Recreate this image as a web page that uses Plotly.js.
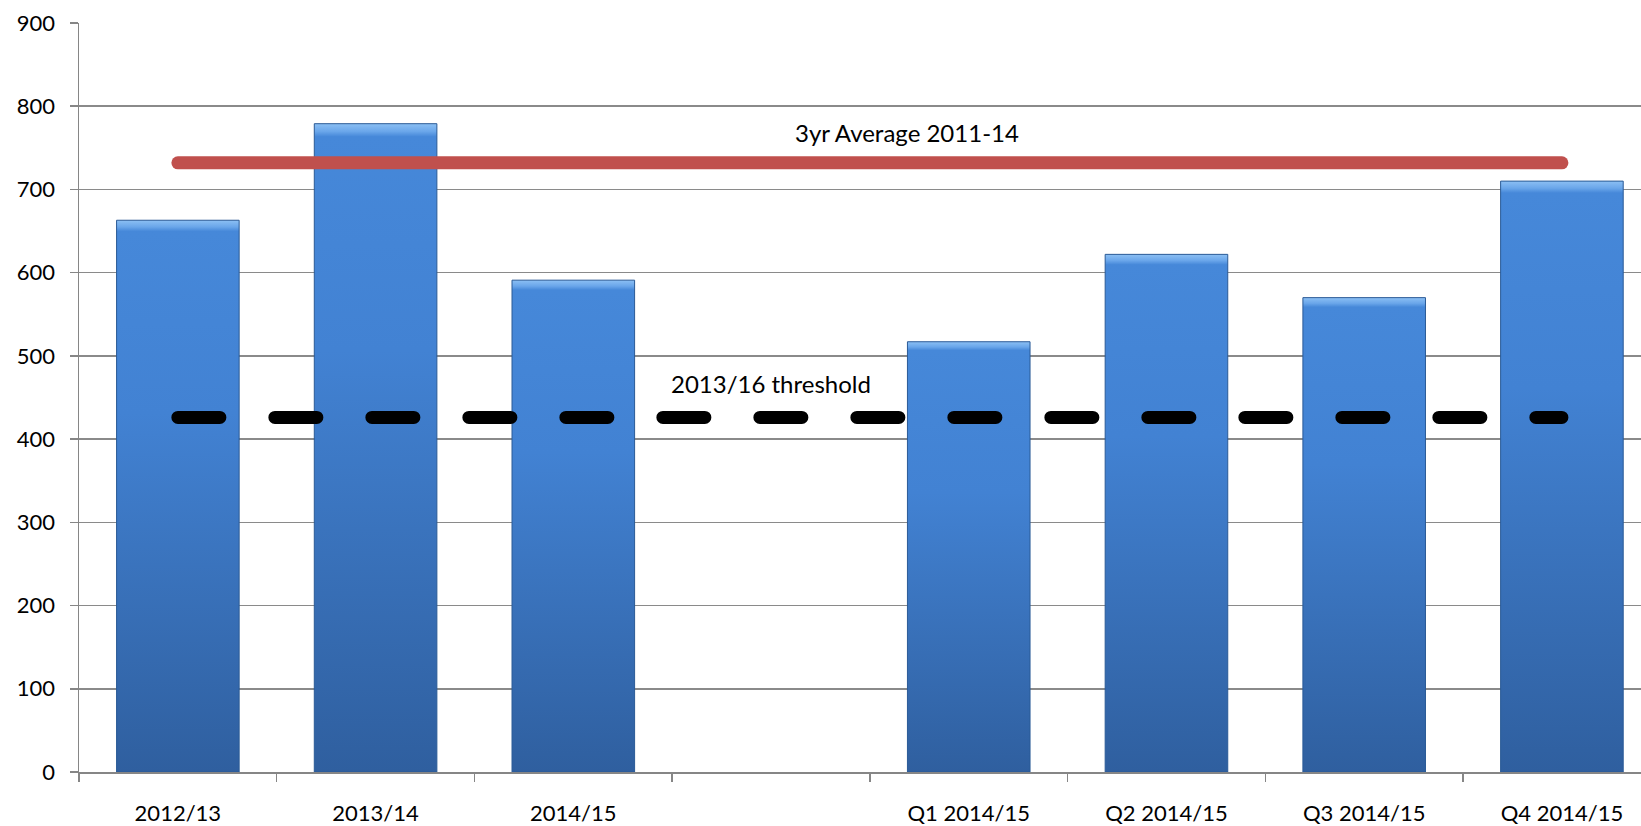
<!DOCTYPE html>
<html>
<head>
<meta charset="utf-8">
<script src="https://cdn.plot.ly/plotly-3.0.1.min.js"></script>
<style>
  html, body { margin: 0; padding: 0; background: #ffffff; }
  #chart { width: 1641px; height: 826px; }
</style>
</head>
<body>
<div id="chart"></div>
<script>
// ---- data ----
var categories = ['2012/13', '2013/14', '2014/15', ' ', 'Q1 2014/15', 'Q2 2014/15', 'Q3 2014/15', 'Q4 2014/15'];
var values = [663, 779, 591, null, 517, 622, 570, 710];
var averageLabel = '3yr Average 2011-14';
var averageValue = 732;
var thresholdLabel = '2013/16 threshold';
var thresholdValue = 426;
var yTicks = [0, 100, 200, 300, 400, 500, 600, 700, 800, 900];

var FONT = 'Lato, "Open Sans", "Noto Sans", sans-serif';
var firstCat = categories[0];
var lastCat = categories[categories.length - 1];

var data = [
  {
    type: 'bar',
    x: categories,
    y: values,
    marker: { color: '#3f7ccc', line: { color: '#2a5a96', width: 1 } },
    hoverinfo: 'x+y',
    showlegend: false
  },
  {
    type: 'scatter',
    mode: 'lines',
    x: [firstCat, lastCat],
    y: [averageValue, averageValue],
    line: { color: '#c0504d', width: 13 },
    showlegend: false
  },
  {
    type: 'scatter',
    mode: 'lines',
    x: [firstCat, lastCat],
    y: [thresholdValue, thresholdValue],
    line: { color: '#000000', width: 13, dash: '42px,55px' },
    showlegend: false
  }
];

var layout = {
  width: 1641,
  height: 826,
  margin: { l: 79, r: 0, t: 23, b: 54 },
  paper_bgcolor: '#ffffff',
  plot_bgcolor: '#ffffff',
  font: { family: FONT, size: 22, color: '#000000' },
  bargap: 0.38,
  showlegend: false,
  xaxis: {
    type: 'category',
    categoryorder: 'array',
    categoryarray: categories,
    range: [-0.5, 7.4],
    showgrid: false,
    showline: true,
    linecolor: '#868686',
    linewidth: 1.5,
    ticks: 'outside',
    tickson: 'boundaries',
    ticklen: 8,
    tickwidth: 1.5,
    tickcolor: '#868686',
    ticklabelstandoff: 21,
    tickfont: { family: FONT, size: 22, color: '#000000' },
    fixedrange: true
  },
  yaxis: {
    range: [0, 900],
    tickvals: yTicks,
    ticktext: yTicks.map(String),
    showgrid: true,
    gridcolor: '#8a8a8a',
    gridwidth: 1.5,
    zeroline: false,
    showline: true,
    linecolor: '#868686',
    linewidth: 1.5,
    ticks: 'outside',
    ticklen: 8,
    tickwidth: 1.5,
    tickcolor: '#868686',
    ticklabelstandoff: 10,
    tickfont: { family: FONT, size: 22, color: '#000000' },
    fixedrange: true
  },
  annotations: [
    {
      x: 3.69, y: 769, xref: 'x', yref: 'y',
      text: averageLabel, showarrow: false,
      font: { family: FONT, size: 24, color: '#000000' }
    },
    {
      x: 3.0, y: 467, xref: 'x', yref: 'y',
      text: thresholdLabel, showarrow: false,
      font: { family: FONT, size: 24, color: '#000000' }
    }
  ]
};

var gd = document.getElementById('chart');
Plotly.newPlot(gd, data, layout, { displayModeBar: false, staticPlot: true }).then(function () {
  var ns = 'http://www.w3.org/2000/svg';
  var svg = gd.querySelector('svg.main-svg');
  var defs = svg.querySelector('defs');
  if (!defs) { defs = document.createElementNS(ns, 'defs'); svg.insertBefore(defs, svg.firstChild); }
  var grad = document.createElementNS(ns, 'linearGradient');
  grad.setAttribute('id', 'barGrad');
  grad.setAttribute('x1', '0'); grad.setAttribute('y1', '0');
  grad.setAttribute('x2', '0'); grad.setAttribute('y2', '1');
  [['0', '#8cc0f4'], ['0.012', '#6aa6ea'], ['0.02', '#4688d9'], ['0.35', '#4282d3'], ['1', '#2f5f9f']].forEach(function (s) {
    var st = document.createElementNS(ns, 'stop');
    st.setAttribute('offset', s[0]);
    st.setAttribute('stop-color', s[1]);
    grad.appendChild(st);
  });
  defs.appendChild(grad);
  gd.querySelectorAll('.barlayer .point path').forEach(function (p) {
    p.style.fill = 'url(#barGrad)';
  });
  gd.querySelectorAll('.scatterlayer .js-line').forEach(function (p) {
    p.style.strokeLinecap = 'round';
  });
});
</script>
</body>
</html>
